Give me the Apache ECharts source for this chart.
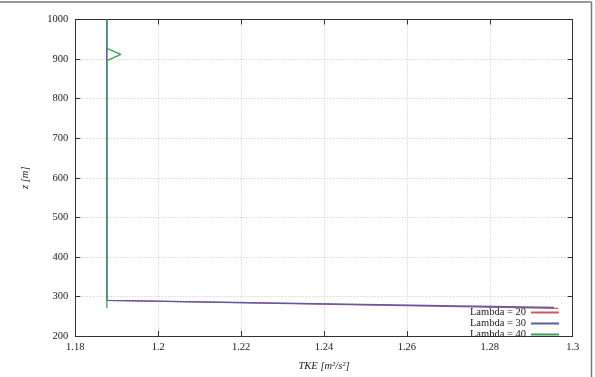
<!DOCTYPE html>
<html>
<head>
<meta charset="utf-8">
<script src="https://cdn.jsdelivr.net/npm/echarts@6/dist/echarts.min.js"></script>
<style>html,body{margin:0;padding:0;background:#fff}#c{width:595px;height:377px}</style>
</head>
<body>
<div id="c"></div>
<script>
// Data (TKE [m^2/s^2] vs height z [m])
const seriesNames = ['Lambda = 20', 'Lambda = 30', 'Lambda = 40'];
const z20 = [1000, 290, 270];
const tke20 = [1.1876, 1.1876, 1.2965];
const z30 = [1000, 290, 272];
const tke30 = [1.1876, 1.1876, 1.2955];
const z40 = [1000, 927, 912, 896, 290, 270];
const tke40 = [1.1876, 1.1876, 1.191, 1.1876, 1.1876, 1.1876];
const xTicks = [1.18, 1.2, 1.22, 1.24, 1.26, 1.28, 1.3];
const yTicks = [200, 300, 400, 500, 600, 700, 800, 900, 1000];

const pairs = (xs, ys) => xs.map((x, i) => [x, ys[i]]);
const font = 'Liberation Serif';
const chart = echarts.init(document.getElementById('c'), null, {renderer: 'canvas'});
const axisCommon = {
  axisLine: {show: true, lineStyle: {color: '#333', width: 1}},
  axisTick: {show: true, inside: true, length: 5, lineStyle: {color: '#333'}},
  splitLine: {show: false}
};
chart.setOption({
  animation: false,
  grid: {left: 75.3, right: 22.3, top: 19.5, bottom: 37.7, containLabel: false},
  graphic: [
    {type: 'line', shape: {x1: 0, y1: 2, x2: 591.5, y2: 2}, style: {stroke: '#777', lineWidth: 1.5}},
    {type: 'line', shape: {x1: 591.5, y1: 2, x2: 591.5, y2: 377}, style: {stroke: '#777', lineWidth: 1.5}}
  ],
  legend: {
    orient: 'vertical', right: 31, top: 302, align: 'right', itemGap: 0,
    itemWidth: 28, itemHeight: 2, icon: 'rect',
    data: seriesNames,
    textStyle: {fontFamily: font, fontSize: 10.5, color: '#222', lineHeight: 10.5}
  },
  xAxis: [{
    type: 'value', min: xTicks[0], max: xTicks[xTicks.length - 1], interval: 0.02,
    name: 'TKE [m²/s²]', nameLocation: 'middle', nameGap: 25,
    nameTextStyle: {fontFamily: font, fontStyle: 'italic', fontSize: 10.5, color: '#222'},
    ...axisCommon,
    axisLabel: {fontFamily: font, fontSize: 10.5, color: '#222', margin: 6,
      formatter: v => String(+v.toFixed(2))},
    splitLine: {show: true, lineStyle: {color: '#c4c4c4', type: [1, 2], width: 1}}
  }, {
    type: 'value', position: 'top', min: xTicks[0], max: xTicks[xTicks.length - 1], interval: 0.02,
    ...axisCommon, axisLabel: {show: false}
  }],
  yAxis: [{
    type: 'value', min: yTicks[0], max: yTicks[yTicks.length - 1], interval: 100,
    name: 'z [m]', nameLocation: 'middle', nameGap: 45, nameRotate: 90,
    nameTextStyle: {fontFamily: font, fontStyle: 'italic', fontSize: 10.5, color: '#222'},
    ...axisCommon,
    axisLabel: {fontFamily: font, fontSize: 10.5, color: '#222', margin: 7,
      formatter: v => String(v)},
    splitLine: {show: true, lineStyle: {color: '#c4c4c4', type: [1, 2], width: 1}}
  }, {
    type: 'value', position: 'right', min: yTicks[0], max: yTicks[yTicks.length - 1], interval: 100,
    ...axisCommon, axisLabel: {show: false}
  }],
  series: [
    {name: seriesNames[0], type: 'line', data: pairs(tke20, z20), showSymbol: false, symbol: 'none',
     lineStyle: {color: '#c8586a', width: 1.3}, itemStyle: {color: '#c8586a'}},
    {name: seriesNames[1], type: 'line', data: pairs(tke30, z30), showSymbol: false, symbol: 'none',
     lineStyle: {color: '#5a5aa8', width: 1.3}, itemStyle: {color: '#5a5aa8'}},
    {name: seriesNames[2], type: 'line', data: pairs(tke40, z40), showSymbol: false, symbol: 'none',
     lineStyle: {color: '#3aa05a', width: 1.3}, itemStyle: {color: '#3aa05a'}}
  ]
});
</script>
</body>
</html>
